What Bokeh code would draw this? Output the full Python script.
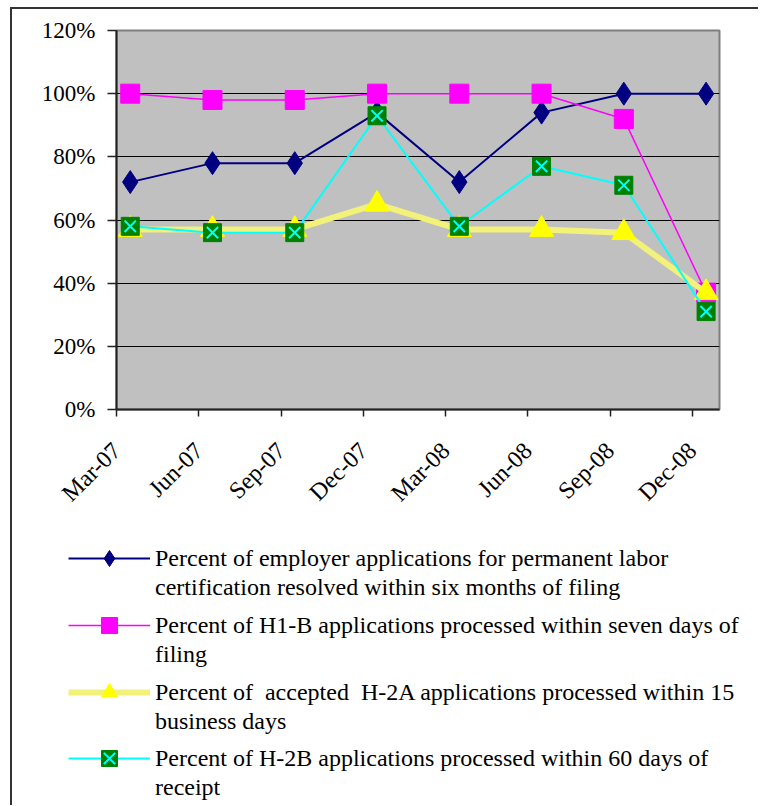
from bokeh.plotting import figure
from bokeh.models import Legend, LegendItem, FixedTicker, Range1d
from bokeh.layouts import column
from bokeh.embed import file_html
from bokeh.resources import INLINE
import math

# ---- data ----
quarters = ["Mar-07", "Jun-07", "Sep-07", "Dec-07", "Mar-08", "Jun-08", "Sep-08", "Dec-08"]
labor_cert = [72, 78, 78, 94, 72, 94, 100, 100]
h1b = [100, 98, 98, 100, 100, 100, 92, 37]
h2a = [57, 57, 57, 65, 57, 57, 56, 37]
h2b = [58, 56, 56, 93, 58, 77, 71, 31]
y_ticks = [0, 20, 40, 60, 80, 100, 120]
y_tick_labels = ["0%", "20%", "40%", "60%", "80%", "100%", "120%"]
label_first_lines = [
    "Percent of employer applications for permanent labor",
    "Percent of H1-B applications processed within seven days of",
    "Percent of  accepted  H-2A applications processed within 15",
    "Percent of H-2B applications processed within 60 days of",
]
label_second_lines = [
    "certification resolved within six months of filing",
    "filing",
    "business days",
    "receipt",
]

FONT = "Liberation Serif"
NAVY, MAGENTA, YEL_LINE, YEL_MARK, CYAN, GREEN = "#000080", "#FF00FF", "#F2F27A", "#FFFF00", "#00FFFF", "#008000"

tick_idx = list(range(len(quarters)))
xs = [i + 0.167 for i in tick_idx]  # points sit slightly right of each tick

W = 746
p = figure(width=W, height=511, output_backend="svg", toolbar_location=None,
           x_range=Range1d(0, 7.33), y_range=Range1d(0, 120),
           min_border_left=104, min_border_right=39, min_border_top=21, min_border_bottom=111,
           background_fill_color="#C0C0C0", border_fill_color="white",
           outline_line_color="#808080", outline_line_width=2)

# axes
p.xaxis.ticker = FixedTicker(ticks=tick_idx)
p.xaxis.major_label_overrides = {i: q for i, q in zip(tick_idx, quarters)}
p.xaxis.major_label_orientation = math.pi / 4
p.yaxis.ticker = FixedTicker(ticks=y_ticks)
p.yaxis.major_label_overrides = {t: l for t, l in zip(y_ticks, y_tick_labels)}
for ax in (p.xaxis, p.yaxis):
    ax.major_label_text_font = FONT
    ax.major_label_text_color = "black"
    ax.axis_line_color = "#222222"
    ax.axis_line_width = 2
    ax.major_tick_line_color = "#222222"
    ax.major_tick_line_width = 1.5
    ax.major_tick_in = 0
    ax.minor_tick_line_color = None
p.xaxis.major_label_text_font_size = "24px"
p.yaxis.major_label_text_font_size = "23px"
p.xaxis.major_tick_out = 7
p.xaxis.major_label_standoff = 30
p.yaxis.major_tick_out = 9
p.yaxis.major_label_standoff = 12

p.xgrid.grid_line_color = None
p.ygrid.grid_line_color = "black"
p.ygrid.grid_line_width = 1

def draw_series(fig, x, ys, visible=True):
    r = []
    r.append([fig.line(x, ys[0], line_color=NAVY, line_width=2, visible=visible),
              fig.scatter(x, ys[0], marker="diamond", size=23, fill_color=NAVY, line_color=NAVY, visible=visible)])
    r.append([fig.line(x, ys[1], line_color=MAGENTA, line_width=1.5, visible=visible),
              fig.scatter(x, ys[1], marker="square", size=19, fill_color=MAGENTA, line_color=MAGENTA, visible=visible)])
    r.append([fig.line(x, ys[2], line_color=YEL_LINE, line_width=6, visible=visible),
              fig.scatter(x, ys[2], marker="triangle", size=24, fill_color=YEL_MARK, line_color=YEL_MARK, visible=visible)])
    r.append([fig.line(x, ys[3], line_color=CYAN, line_width=2, visible=visible),
              fig.scatter(x, ys[3], marker="square", size=18, fill_color=GREEN, line_color=GREEN, visible=visible),
              fig.scatter(x, ys[3], marker="x", size=16, line_color=CYAN, line_width=2, visible=visible)])
    return r

series = [labor_cert, h1b, h2a, h2b]
draw_series(p, xs, series)

# ---- legend panel (second figure; hidden copies of the series only feed the legend glyphs) ----
LG_H = 285
lg = figure(width=W, height=LG_H, output_backend="svg", toolbar_location=None,
            x_range=Range1d(0, 1), y_range=Range1d(0, 1),
            min_border=0, outline_line_color=None, background_fill_color=None,
            border_fill_color="white")
lg.axis.visible = False
lg.grid.visible = False
lr = draw_series(lg, xs, series, visible=False)
blank = lg.line(xs, labor_cert, line_alpha=0, visible=False)

def add_legend(label, renderers, center_y, glyph_h):
    # center_y: distance of the text line's centre from the top of the legend panel
    bottom = LG_H - (center_y + glyph_h / 2)
    lgd = Legend(items=[LegendItem(label=label, renderers=renderers)], location=(56, bottom),
                 glyph_width=82, glyph_height=glyph_h, label_height=29, label_standoff=5,
                 spacing=0, padding=0, margin=0, border_line_color=None,
                 background_fill_alpha=0, inactive_fill_alpha=0, click_policy="none",
                 label_text_font=FONT, label_text_font_size="24px", label_text_color="black")
    lg.add_layout(lgd, "center")

first_line_centers = [38, 105, 172, 238]
for k in range(4):
    add_legend(label_first_lines[k], lr[k], first_line_centers[k], 40)
    add_legend(label_second_lines[k], [blank], first_line_centers[k] + 29, 29)

page = column(p, column(lg), spacing=0,
              styles={"margin-left": "10px", "margin-top": "7px",
                      "border-left": "2px solid #333333", "border-top": "2px solid #333333"})

open("out.html", "w").write(file_html(page, INLINE))
